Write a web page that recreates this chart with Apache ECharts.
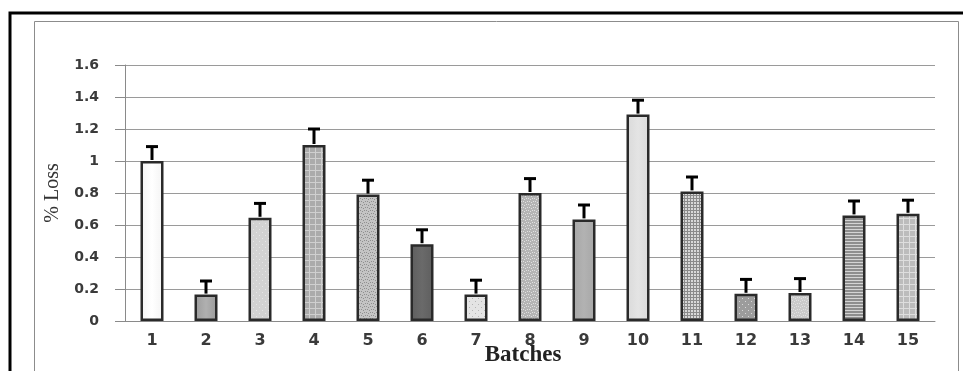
<!DOCTYPE html>
<html>
<head>
<meta charset="utf-8">
<style>
  html, body { margin: 0; padding: 0; background: #ffffff; }
  #chart { width: 963px; height: 371px; }
</style>
<script src="https://cdn.jsdelivr.net/npm/echarts@6/dist/echarts.min.js"></script>
</head>
<body>
<div id="chart"></div>
<script>
// Batch numbers along the x axis
const batches = ['1','2','3','4','5','6','7','8','9','10','11','12','13','14','15'];
// Mean % loss per batch
const lossValues = [1.00, 0.165, 0.645, 1.10, 0.79, 0.48, 0.165, 0.80, 0.635, 1.29, 0.81, 0.17, 0.175, 0.66, 0.67];
// Upper error (standard deviation) per batch
const lossErrors = [0.09, 0.085, 0.09, 0.10, 0.09, 0.09, 0.09, 0.09, 0.09, 0.09, 0.09, 0.09, 0.09, 0.09, 0.085];
// Y axis ticks
const yTicks = [0, 0.2, 0.4, 0.6, 0.8, 1, 1.2, 1.4, 1.6];

// Fill styles for each bar: base grey and a texture kind
const barFills = [
  { base: '#f3f3f3', ink: '#ffffff', kind: 'plain' },
  { base: '#9a9a9a', ink: '#b0b0b0', kind: 'plain' },
  { base: '#d2d2d2', ink: '#e6e6e6', kind: 'dots' },
  { base: '#ababab', ink: '#cfcfcf', kind: 'grid' },
  { base: '#c4c4c4', ink: '#8f8f8f', kind: 'stipple' },
  { base: '#5e5e5e', ink: '#6a6a6a', kind: 'plain' },
  { base: '#e4e4e4', ink: '#b5b5b5', kind: 'dots' },
  { base: '#b4b4b4', ink: '#e0e0e0', kind: 'stipple' },
  { base: '#a6a6a6', ink: '#b2b2b2', kind: 'plain' },
  { base: '#d9d9d9', ink: '#e4e4e4', kind: 'plain' },
  { base: '#d8d8d8', ink: '#8a8a8a', kind: 'fine-grid' },
  { base: '#9c9c9c', ink: '#d8d8d8', kind: 'dots' },
  { base: '#cbcbcb', ink: '#e2e2e2', kind: 'stipple' },
  { base: '#8e8e8e', ink: '#d4d4d4', kind: 'hstripes' },
  { base: '#bcbcbc', ink: '#dedede', kind: 'grid' }
];

function makePattern(f) {
  const c = document.createElement('canvas');
  c.width = 6; c.height = 6;
  const g = c.getContext('2d');
  g.fillStyle = f.base;
  g.fillRect(0, 0, 6, 6);
  g.fillStyle = f.ink;
  if (f.kind === 'dots') {
    g.fillRect(1, 1, 1, 1); g.fillRect(4, 4, 1, 1);
  } else if (f.kind === 'stipple') {
    g.fillRect(0, 0, 1, 1); g.fillRect(2, 1, 1, 1); g.fillRect(4, 0, 1, 1);
    g.fillRect(1, 3, 1, 1); g.fillRect(3, 4, 1, 1); g.fillRect(5, 3, 1, 1);
  } else if (f.kind === 'grid') {
    g.fillRect(0, 2, 6, 1); g.fillRect(3, 0, 1, 6);
  } else if (f.kind === 'fine-grid') {
    g.fillRect(0, 0, 6, 1); g.fillRect(0, 3, 6, 1);
    g.fillRect(0, 0, 1, 6); g.fillRect(3, 0, 1, 6);
  } else if (f.kind === 'hstripes') {
    g.fillRect(0, 1, 6, 1); g.fillRect(0, 4, 6, 1);
  }
  return { image: c, repeat: 'repeat' };
}

const chart = echarts.init(document.getElementById('chart'), null, { renderer: 'canvas' });

const barData = lossValues.map((v, i) => {
  const f = barFills[i];
  return {
    value: v,
    itemStyle: {
      color: f.kind === 'plain'
        ? { type: 'linear', x: 0, y: 0, x2: 1, y2: 0,
            colorStops: [{ offset: 0, color: f.base }, { offset: 0.5, color: f.ink }, { offset: 1, color: f.base }] }
        : makePattern(f)
    }
  };
});

const errorData = lossValues.map((v, i) => [i, v, v + lossErrors[i]]);

const labelFont = { fontFamily: 'DejaVu Sans', fontWeight: 'bold', fontSize: 14, color: '#3a3a3a' };

chart.setOption({
  animation: false,
  backgroundColor: '#ffffff',
  grid: { left: 125, right: 28, top: 65, bottom: 50, containLabel: false, outerBoundsMode: 'none' },
  xAxis: {
    type: 'category',
    data: batches,
    name: 'Batches',
    nameLocation: 'middle',
    nameGap: 23,
    nameMoveOverlap: false,
    nameTextStyle: { fontFamily: 'Liberation Serif', fontWeight: 'bold', fontSize: 23, color: '#222222', padding: [0, 14, 0, 0] },
    axisLine: { show: true, lineStyle: { color: '#8a8a8a', width: 1 } },
    axisTick: { show: false },
    axisLabel: Object.assign({}, labelFont, { margin: 12, fontSize: 16 }),
    splitLine: { show: false }
  },
  yAxis: {
    type: 'value',
    min: 0,
    max: 1.6,
    interval: 0.2,
    name: '% Loss',
    nameLocation: 'middle',
    nameGap: 62,
    nameMoveOverlap: false,
    nameRotate: 90,
    nameTextStyle: { fontFamily: 'Liberation Serif', fontSize: 20, color: '#333333' },
    axisLine: { show: true, lineStyle: { color: '#8a8a8a', width: 1 } },
    axisTick: { show: true, inside: false, length: 10, lineStyle: { color: '#8a8a8a' } },
    axisLabel: Object.assign({
      margin: 26,
      formatter: function (v) {
        const t = yTicks.find(y => Math.abs(y - v) < 1e-9);
        return t === undefined ? '' : String(t);
      }
    }, labelFont),
    splitLine: { show: true, lineStyle: { color: '#9a9a9a', width: 1 } }
  },
  series: [
    {
      type: 'bar',
      data: barData,
      barWidth: 23,
      itemStyle: { borderColor: '#2a2a2a', borderWidth: 2.5 },
      z: 2
    },
    {
      type: 'custom',
      data: errorData,
      z: 3,
      renderItem: function (params, api) {
        const x = api.value(0);
        const lo = api.coord([x, api.value(1)]);
        const hi = api.coord([x, api.value(2)]);
        const half = 6;
        return {
          type: 'group',
          children: [
            { type: 'line', shape: { x1: lo[0], y1: lo[1] - 1, x2: hi[0], y2: hi[1] },
              style: { stroke: '#000000', lineWidth: 3 } },
            { type: 'line', shape: { x1: hi[0] - half, y1: hi[1], x2: hi[0] + half, y2: hi[1] },
              style: { stroke: '#000000', lineWidth: 3 } }
          ]
        };
      }
    }
  ],
  graphic: [
    // Outer black frame
    { type: 'polyline', shape: { points: [[10, 371], [10, 13], [963, 13]] },
      style: { stroke: '#000000', fill: null, lineWidth: 3 }, z: 0 },
    // Inner grey chart frame
    { type: 'polyline', shape: { points: [[34.5, 371], [34.5, 21.5], [958.5, 21.5], [958.5, 371]] },
      style: { stroke: '#8c8c8c', fill: null, lineWidth: 1 }, z: 0 }
  ]
});
</script>
</body>
</html>
